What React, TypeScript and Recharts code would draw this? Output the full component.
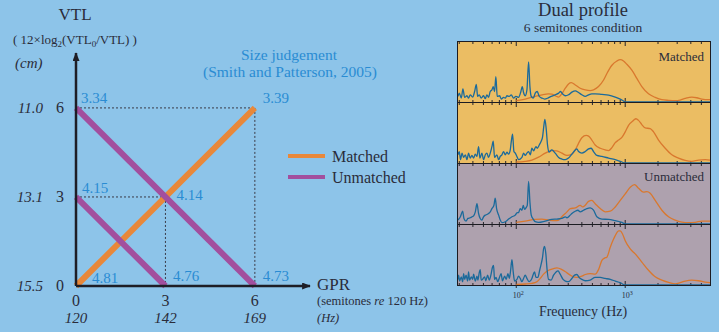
import React from 'react';
import { LineChart, Line, XAxis, YAxis, ReferenceLine, LabelList, Legend } from 'recharts';

// ---------- page / style constants ----------
const W = 719;
const H = 332;
const BG = '#8DC4E9';
const TEXT = '#2A2C3A';
const BLUE_TXT = '#2A8CD3';
const ORANGE = '#E8883A';
const PURPLE = '#A24F9E';
const SERIF = '"Liberation Serif", "Times New Roman", serif';
const AXIS_COL = '#1E1E26';

// ---------- left chart data ----------
const semitoneTicks = [0, 3, 6];
const vtlCmLabels = ['15.5', '13.1', '11.0'];
const gprHzLabels = ['120', '142', '169'];

const gprMatched = [0, 3, 6];
const vtlMatched = [0, 3, 6];
const judgeMatched = ['4.81', '4.14', '3.39'];

const gprUnmatchedA = [0, 6];
const vtlUnmatchedA = [6, 0];
const judgeUnmatchedA = ['3.34', '4.73'];

const gprUnmatchedB = [0, 3];
const vtlUnmatchedB = [3, 0];
const judgeUnmatchedB = ['4.15', '4.76'];

// label offsets (layout only)
const offMatched = [[16, -3], [11, 3], [8, -5]];
const offUnmatchedA = [[5, -5], [8, -5]];
const offUnmatchedB = [[6, -4], [7.5, -5]];

// ---------- spectrum panels data: [frequency Hz, relative level] ----------
const p1Source: [number, number][] = [
  [29.2, 17], [30.0, 27], [31.3, 12], [32.4, 40], [33.6, 14], [35.3, 19], [36.5, 12], [37.8, 22], [39.8, 15], [41.5, 32],
  [43.0, 54], [44.2, 17], [45.7, 22], [47.7, 12], [50.1, 19], [52.0, 10], [53.8, 22], [55.7, 14], [57.7, 32], [59.8, 37],
  [61.5, 47], [63.2, 32], [65.0, 77], [66.9, 17], [70.4, 19], [72.8, 9], [76.5, 14], [79.3, 12], [82.1, 19], [86.3, 17],
  [90.0, 22], [94.5, 12], [99.3, 17], [105, 14], [110.3, 32], [113.5, 47], [116.7, 29], [120.9, 19], [125.3, 37], [129.8, 122],
  [133.5, 47], [137.3, 17], [143.2, 12], [149.4, 27], [155.8, 32], [162.6, 17], [172, 12], [181.9, 9], [195.2, 12], [209, 17],
  [228, 22], [245, 27], [255, 32], [266, 25], [282, 19], [302, 22], [324, 30], [348, 34], [373, 29], [400, 22],
  [430, 17], [461, 22], [494, 25], [530, 25], [611, 23], [703, 21], [810, 15], [900, 9], [965, 3], [1000, 0], [6000, 0],
];
const p1Filter: [number, number][] = [
  [100, 4], [120.9, 9], [149.4, 17], [172, 22], [198, 25], [212, 24], [228, 19], [245, 15], [262, 25], [282, 42],
  [302, 55], [320, 59], [348, 52], [386, 42], [430, 37], [477, 35], [512, 37], [569, 47], [633, 67], [679, 87],
  [755, 112], [839, 125], [900, 129], [965, 125], [1036, 115], [1151, 97], [1279, 72], [1421, 47], [1636, 25], [1884, 14],
  [2170, 7], [2498, 5], [2876, 4], [3196, 6], [3551, 11], [4090, 15], [4546, 13], [5052, 9], [6000, 7],
];

const p2Source: [number, number][] = [
  [29.2, 25], [30.0, 35], [30.8, 10], [31.8, 30], [32.9, 17], [34.1, 25], [35.3, 10], [36.5, 30], [37.8, 15], [39.2, 23],
  [40.6, 15], [42.1, 27], [43.6, 20], [45.1, 50], [46.4, 15], [48.4, 30], [50.1, 10], [52.0, 25], [53.8, 30], [55.7, 17],
  [57.7, 30], [59.8, 50], [61.5, 67], [63.2, 17], [66.4, 25], [68.9, 10], [71.3, 20], [73.9, 25], [76.5, 35], [79.3, 25],
  [82.1, 33], [85.1, 27], [88.1, 40], [90.0, 65], [92.5, 88], [95.2, 35], [97.9, 30], [101.4, 20], [105, 10], [112.7, 17],
  [116.7, 30], [120.9, 23], [125.3, 30], [129.8, 35], [134.4, 25], [139.2, 45], [144.2, 37], [151.5, 50], [155.8, 45], [162.6, 55],
  [169.6, 67], [174.4, 80], [179.4, 115], [183.2, 133], [188.2, 105], [193.7, 55], [199.4, 33], [212, 40], [228, 30], [245, 17],
  [262, 12], [282, 10], [302, 15], [324, 27], [348, 40], [360, 43], [373, 35], [400, 30], [430, 35], [461, 43],
  [487, 45], [512, 35], [549, 23], [611, 20], [703, 15], [810, 10], [900, 5], [1000, 0], [6000, 0],
];
const p2Filter: [number, number][] = [
  [100, 3], [120.9, 5], [139.2, 9], [160.3, 18], [184.5, 30], [212, 38], [236, 37], [262, 30], [292, 23], [324, 27],
  [348, 40], [373, 60], [400, 77], [439, 84], [461, 82], [494, 70], [530, 55], [590, 45], [655, 40], [703, 38],
  [755, 47], [810, 62], [869, 70], [932, 78], [1000, 95], [1073, 115], [1192, 130], [1255, 135], [1325, 130], [1421, 117],
  [1525, 107], [1696, 105], [1820, 95], [2022, 70], [2328, 45], [2680, 25], [3085, 15], [3551, 8], [4090, 5], [4709, 9],
  [5420, 10], [6000, 9],
];

const p3Source: [number, number][] = [
  [29.2, 12], [30.7, 22], [32.2, 39], [33.1, 17], [34.6, 9], [36.0, 17], [37.8, 19], [39.2, 22], [40.6, 25], [42.1, 37],
  [43.6, 62], [45.1, 32], [46.7, 17], [48.4, 12], [50.1, 22], [52.0, 27], [53.8, 29], [55.7, 32], [57.7, 37], [59.8, 47],
  [62.4, 57], [64.1, 79], [66.0, 47], [68.9, 27], [71.3, 12], [73.9, 4], [79.3, 7], [85.1, 15], [91.3, 22], [97.9, 27],
  [101.4, 34], [105, 35], [108.8, 47], [112.7, 42], [115.9, 57], [119.2, 45], [122.6, 49], [126.2, 57], [129.8, 130], [133.5, 67],
  [137.3, 27], [143.2, 15], [149.4, 7], [160.3, 5], [184.5, 9], [212, 14], [236, 15], [262, 17], [282, 22], [292, 19],
  [313, 27], [324, 32], [348, 39], [368, 42], [386, 37], [415, 42], [445, 47], [477, 49], [512, 42], [549, 22],
  [611, 15], [703, 14], [810, 10], [932, 5], [1000, 0], [6000, 0],
];
const p3Filter: [number, number][] = [
  [100, 5], [120.9, 9], [149.4, 14], [172, 15], [198, 12], [228, 10], [245, 12], [262, 22], [292, 37], [313, 47],
  [348, 49], [386, 57], [407, 52], [430, 57], [461, 69], [494, 72], [530, 62], [590, 47], [655, 37], [729, 39],
  [810, 52], [900, 72], [1000, 92], [1112, 112], [1218, 120], [1325, 109], [1472, 97], [1580, 99], [1696, 94], [1884, 72],
  [2170, 42], [2498, 22], [2876, 12], [3310, 6], [3810, 4], [4388, 5], [5052, 9], [6000, 9],
];

const p4Source: [number, number][] = [
  [29.2, 17], [29.6, 30], [30.2, 12], [31.3, 25], [32.2, 10], [32.9, 35], [33.6, 17], [34.6, 30], [35.8, 12], [36.5, 40],
  [37.3, 15], [38.7, 25], [39.8, 17], [40.6, 33], [42.1, 12], [43.6, 27], [44.5, 15], [45.7, 37], [46.7, 47], [47.7, 15],
  [49.0, 17], [51.2, 25], [52.6, 13], [54.6, 30], [56.5, 15], [58.5, 30], [60.6, 55], [61.9, 60], [63.2, 17], [65.3, 23],
  [67.6, 10], [70.1, 23], [72.6, 35], [74.7, 13], [78.2, 27], [80.9, 17], [83.9, 35], [86.3, 20], [88.8, 45], [91.3, 77],
  [93.8, 40], [96.5, 12], [101.4, 17], [105, 27], [108.8, 20], [112.7, 10], [116.7, 20], [120.9, 30], [125.3, 20], [131.6, 10],
  [139.2, 20], [144.2, 35], [147.3, 40], [151.5, 23], [158, 23], [164, 45], [169.6, 65], [174.4, 85], [178.1, 110], [181.9, 118],
  [186.9, 95], [192.1, 45], [198, 17], [209, 15], [220, 30], [232, 40], [242, 43], [253, 33], [269, 17], [282, 12],
  [302, 10], [324, 20], [343, 30], [360, 32], [378, 23], [400, 17], [430, 13], [477, 15], [530, 23], [590, 23],
  [655, 20], [729, 17], [810, 12], [900, 7], [1000, 0], [6000, 0],
];
const p4Filter: [number, number][] = [
  [100, 2], [120.9, 3], [139.2, 5], [154.7, 10], [166, 20], [178.1, 33], [198, 45], [220, 50], [236, 52], [262, 47],
  [292, 37], [324, 27], [360, 23], [400, 27], [430, 32], [477, 35], [530, 33], [569, 47], [611, 75], [646, 82],
  [679, 85], [729, 115], [782, 140], [839, 160], [869, 165], [900, 165], [947, 155], [1000, 135], [1112, 110], [1235, 95],
  [1421, 70], [1636, 45], [1884, 25], [2170, 15], [2498, 8], [2876, 3], [3196, 7], [3551, 12], [4090, 15], [4709, 13],
  [5420, 9], [6000, 7],
];

const minorFreqTicks = [30, 40, 50, 60, 70, 80, 90, 200, 300, 400, 500, 600, 700, 800, 900, 2000, 3000, 4000, 5000];
const majorFreqTicks = [100, 1000];
const FREQ_DOMAIN: [number, number] = [29.2, 6000];
const LEVEL_MAX = 183;

// ---------- panel layout ----------
const PANEL_LEFT = 458;
const PANEL_W = 252;
const PANEL_H = 60;
const PANEL_TOP = 42;
const PANEL_PITCH = 61;
const MATCHED_BG = '#EBBD63';
const UNMATCHED_BG = '#AEA1AE';
const SRC_COL = '#1B6A9B';
const FLT_COL = '#D9782E';

const rows = (g: number[], v: number[], j: string[]) => g.map((x, i) => ({ gpr: x, vtl: v[i], judge: j[i] }));

const makeLabel = (offsets: number[][]) => (props: any) => {
  const x = props.x ?? props.viewBox?.x;
  const y = props.y ?? props.viewBox?.y;
  const i = props.index ?? 0;
  const o = offsets[i] || [6, -5];
  return (
    <text x={x + o[0]} y={y + o[1]} fontFamily={SERIF} fontSize={15} fill={BLUE_TXT}>
      {props.value}
    </text>
  );
};

const VtlTick = (props: any) => {
  const { x, y, payload } = props;
  const i = semitoneTicks.indexOf(payload.value);
  return (
    <g>
      <text x={x - 16} y={y} dy="0.33em" textAnchor="middle" fontFamily={SERIF} fontSize={16} fill={TEXT}>
        {payload.value}
      </text>
      <text x={x - 33} y={y} dy="0.33em" textAnchor="end" fontFamily={SERIF} fontStyle="italic" fontSize={15} fill={TEXT}>
        {vtlCmLabels[i]}
      </text>
    </g>
  );
};

const GprTick = (props: any) => {
  const { x, y, payload } = props;
  const i = semitoneTicks.indexOf(payload.value);
  return (
    <g>
      <text x={x} y={y + 20} textAnchor="middle" fontFamily={SERIF} fontSize={16} fill={TEXT}>
        {payload.value}
      </text>
      <text x={x} y={y + 37} textAnchor="middle" fontFamily={SERIF} fontStyle="italic" fontSize={15} fill={TEXT}>
        {gprHzLabels[i]}
      </text>
    </g>
  );
};

const renderLegend = (props: any) => {
  const seen: Record<string, boolean> = {};
  const items = (props.payload || []).filter((e: any) => {
    if (e.type === 'none' || seen[e.value]) return false;
    seen[e.value] = true;
    return true;
  });
  return (
    <div style={{ fontFamily: SERIF, fontSize: 16, color: TEXT }}>
      {items.map((e: any) => (
        <div key={e.value} style={{ display: 'flex', alignItems: 'center', height: 21 }}>
          <span style={{ display: 'inline-block', width: 37, height: 4, background: e.color, marginRight: 7 }} />
          <span style={{ lineHeight: '21px' }}>{e.value}</span>
        </div>
      ))}
    </div>
  );
};

function LeftChart() {
  return (
    <LineChart width={330} height={332} margin={{ top: 53, right: 20, bottom: 6, left: 36 }}>
      <XAxis
        type="number"
        dataKey="gpr"
        domain={[0, 7.85]}
        ticks={semitoneTicks}
        interval={0}
        height={40}
        tickLine={false}
        tickSize={0}
        tickMargin={0}
        axisLine={{ stroke: AXIS_COL, strokeWidth: 2.5, markerEnd: 'url(#axisArrow)' }}
        tick={(p: any) => <GprTick {...p} />}
      />
      <YAxis
        type="number"
        domain={[0, 7.85]}
        ticks={semitoneTicks}
        interval={0}
        width={40}
        tickLine={false}
        tickSize={0}
        tickMargin={0}
        axisLine={{ stroke: AXIS_COL, strokeWidth: 2.5, markerStart: 'url(#axisArrow)' }}
        tick={(p: any) => <VtlTick {...p} />}
      />
      <ReferenceLine segment={[{ x: 0, y: 6 }, { x: 6, y: 6 }]} stroke="#3A3A46" strokeDasharray="2 2" strokeWidth={1} />
      <ReferenceLine segment={[{ x: 6, y: 6 }, { x: 6, y: 0 }]} stroke="#3A3A46" strokeDasharray="2 2" strokeWidth={1} />
      <ReferenceLine segment={[{ x: 0, y: 3 }, { x: 3, y: 3 }]} stroke="#3A3A46" strokeDasharray="2 2" strokeWidth={1} />
      <ReferenceLine segment={[{ x: 3, y: 3 }, { x: 3, y: 0 }]} stroke="#3A3A46" strokeDasharray="2 2" strokeWidth={1} />
      <Line
        data={rows(gprMatched, vtlMatched, judgeMatched)}
        dataKey="vtl"
        name="Matched"
        type="linear"
        stroke={ORANGE}
        strokeWidth={6}
        dot={false}
        isAnimationActive={false}
      >
        <LabelList dataKey="judge" content={makeLabel(offMatched)} />
      </Line>
      <Line
        data={rows(gprUnmatchedA, vtlUnmatchedA, judgeUnmatchedA)}
        dataKey="vtl"
        name="Unmatched"
        type="linear"
        stroke={PURPLE}
        strokeWidth={6}
        dot={false}
        isAnimationActive={false}
      >
        <LabelList dataKey="judge" content={makeLabel(offUnmatchedA)} />
      </Line>
      <Line
        data={rows(gprUnmatchedB, vtlUnmatchedB, judgeUnmatchedB)}
        dataKey="vtl"
        name="Unmatched "
        legendType="none"
        type="linear"
        stroke={PURPLE}
        strokeWidth={6}
        dot={false}
        isAnimationActive={false}
      >
        <LabelList dataKey="judge" content={makeLabel(offUnmatchedB)} />
      </Line>
      <Legend
        layout="vertical"
        align="center"
        verticalAlign="middle"
        content={renderLegend}
        wrapperStyle={{ left: 288, top: 145.5, width: 120, height: 42 }}
      />
    </LineChart>
  );
}

const FreqTick = (props: any) => {
  const { x, y, payload } = props;
  const exp = Math.round(Math.log10(payload.value));
  return (
    <text x={x + 2} y={y + 8} textAnchor="middle" fontFamily={SERIF} fontSize={8} fill={TEXT}>
      10
      <tspan dy={-3} fontSize={6}>
        {exp}
      </tspan>
    </text>
  );
};

function SpectrumPanel({ index, bg, src, flt, showFreqLabels }: any) {
  const top = PANEL_TOP + index * PANEL_PITCH;
  const srcRows = src.map(([f, v]: [number, number]) => ({ f, v }));
  const fltRows = flt.map(([f, v]: [number, number]) => ({ f, v }));
  const chartH = PANEL_H + (showFreqLabels ? 18 : 0);
  const unitPerPx = LEVEL_MAX / PANEL_H;
  const tickMarks: React.ReactNode[] = [];
  const addTicks = (list: number[], len: number, key: string) =>
    list.forEach((f) => {
      tickMarks.push(
        <ReferenceLine key={key + 'b' + f} segment={[{ x: f, y: 0 }, { x: f, y: len * unitPerPx }]} stroke="#26262C" strokeWidth={1} />
      );
      tickMarks.push(
        <ReferenceLine
          key={key + 't' + f}
          segment={[{ x: f, y: LEVEL_MAX }, { x: f, y: LEVEL_MAX - len * unitPerPx }]}
          stroke="#26262C"
          strokeWidth={1}
        />
      );
    });
  addTicks(minorFreqTicks, 2, 'mi');
  addTicks(majorFreqTicks, 4, 'ma');
  return (
    <div
      style={{
        position: 'absolute',
        left: PANEL_LEFT - 1,
        top: top - 1,
        width: PANEL_W + 2,
        height: PANEL_H + 2,
        boxSizing: 'border-box',
        border: '1px solid #1C1C22',
        background: bg,
      }}
    >
      <div style={{ position: 'absolute', left: 0, top: 0 }}>
        <LineChart width={PANEL_W} height={chartH} margin={{ top: 0, right: 0, bottom: 0, left: 0 }}>
          <XAxis
            type="number"
            dataKey="f"
            scale="log"
            domain={FREQ_DOMAIN}
            allowDataOverflow
            ticks={majorFreqTicks}
            interval={0}
            hide={!showFreqLabels}
            height={18}
            axisLine={false}
            tickLine={{ stroke: '#26262C' }}
            tickSize={3}
            tickMargin={2}
            tick={(p: any) => <FreqTick {...p} />}
          />
          <YAxis type="number" domain={[0, LEVEL_MAX]} allowDataOverflow hide />
          {tickMarks}
          <Line data={fltRows} dataKey="v" type="monotone" stroke={FLT_COL} strokeWidth={1.3} dot={false} isAnimationActive={false} />
          <Line data={srcRows} dataKey="v" type="monotone" stroke={SRC_COL} strokeWidth={1.3} dot={false} isAnimationActive={false} />
        </LineChart>
      </div>
    </div>
  );
}

function Overlay() {
  return (
    <svg width={W} height={H} style={{ position: 'absolute', left: 0, top: 0, pointerEvents: 'none' }} fontFamily={SERIF}>
      <defs>
        <marker
          id="axisArrow"
          viewBox="0 0 10 8"
          refX={9}
          refY={4}
          markerWidth={10}
          markerHeight={7}
          markerUnits="userSpaceOnUse"
          orient="auto-start-reverse"
        >
          <path d="M0,0 L10,4 L0,8 Z" fill={AXIS_COL} />
        </marker>
      </defs>
      <text x={75} y={20} textAnchor="middle" fontSize={17} fill={TEXT}>VTL</text>
      <text x={13} y={44} fontSize={13} fill={TEXT}>
        ( 12×log<tspan fontSize={9} dy={3}>2</tspan>
        <tspan dy={-3}>(VTL</tspan>
        <tspan fontSize={9} dy={3}>0</tspan>
        <tspan dy={-3}>/VTL) )</tspan>
      </text>
      <text x={15} y={68} fontSize={15} fontStyle="italic" fill={TEXT}>(cm)</text>

      <text x={289} y={60} textAnchor="middle" fontSize={15.5} fill={BLUE_TXT}>Size judgement</text>
      <text x={290} y={77} textAnchor="middle" fontSize={15.5} fill={BLUE_TXT}>(Smith and Patterson, 2005)</text>

      <text x={317} y={290} fontSize={17} fill={TEXT}>GPR</text>
      <text x={317} y={305} fontSize={12.5} fill={TEXT}>
        (semitones <tspan fontStyle="italic">re</tspan> 120 Hz)
      </text>
      <text x={317} y={322} fontSize={12.5} fontStyle="italic" fill={TEXT}>(Hz)</text>

      <text x={583} y={16} textAnchor="middle" fontSize={18.5} fill={TEXT}>Dual profile</text>
      <text x={583} y={31.5} textAnchor="middle" fontSize={13.5} fill={TEXT}>6 semitones condition</text>
      <text x={704} y={61} textAnchor="end" fontSize={13} fill={TEXT}>Matched</text>
      <text x={704} y={181} textAnchor="end" fontSize={13} fill={TEXT}>Unmatched</text>
      <text x={583} y={316} textAnchor="middle" fontSize={14} fill={TEXT}>Frequency (Hz)</text>
    </svg>
  );
}

export default function App() {
  return (
    <div style={{ position: 'absolute', left: 0, top: 0, width: W, height: H, background: BG, overflow: 'hidden', fontFamily: SERIF }}>
      <div style={{ position: 'absolute', left: 0, top: 0 }}>
        <LeftChart />
      </div>
      <SpectrumPanel index={0} bg={MATCHED_BG} src={p1Source} flt={p1Filter} />
      <SpectrumPanel index={1} bg={MATCHED_BG} src={p2Source} flt={p2Filter} />
      <SpectrumPanel index={2} bg={UNMATCHED_BG} src={p3Source} flt={p3Filter} />
      <SpectrumPanel index={3} bg={UNMATCHED_BG} src={p4Source} flt={p4Filter} showFreqLabels />
      <Overlay />
    </div>
  );
}
